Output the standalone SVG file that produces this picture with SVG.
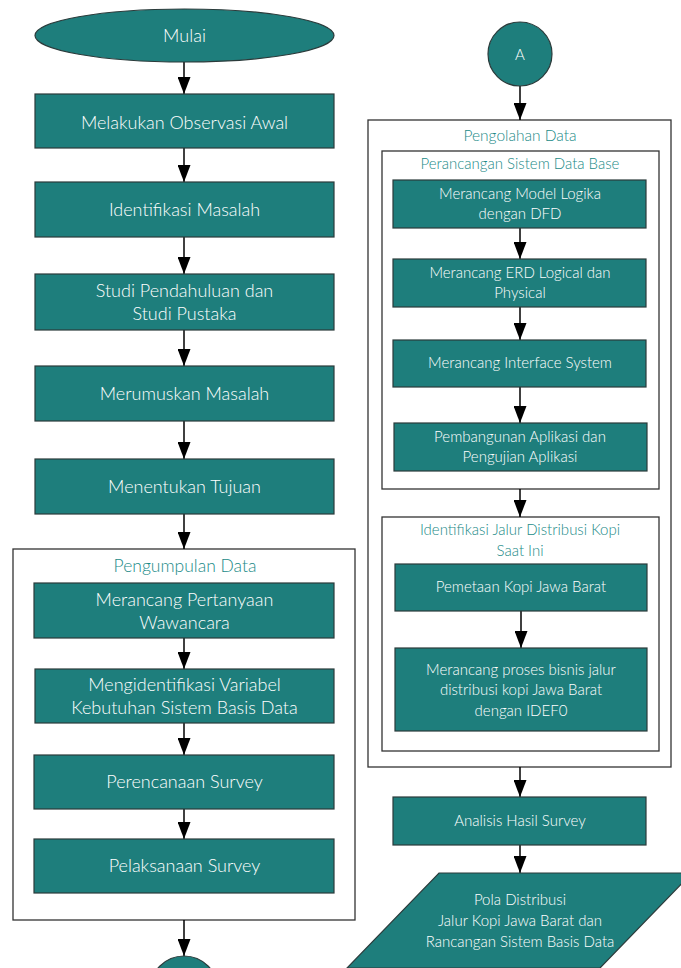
<svg xmlns="http://www.w3.org/2000/svg" width="681" height="968" viewBox="0 0 681 968">
<style>
.box{fill:#1e7e7c;stroke:#2b3b3b;stroke-width:1.2}
.frame{fill:#ffffff;stroke:#333333;stroke-width:1.3}
.t{font-family:Lato,"Open Sans",sans-serif;font-weight:300;fill:#ffffff;text-anchor:middle}
.L{font-size:18px}
.R{font-size:15px}
.ttl{font-family:Lato,"Open Sans",sans-serif;font-weight:300;fill:#1a8a87;text-anchor:middle}
.con{stroke:#000;stroke-width:1.5;fill:none;marker-end:url(#ah)}
</style>
<defs>
<marker id="ah" markerUnits="userSpaceOnUse" markerWidth="17" markerHeight="13" refX="17" refY="6.5" orient="auto">
<path d="M0,0 L17,6.5 L0,13 z" fill="#000"/>
</marker>
</defs>
<rect width="681" height="968" fill="#ffffff"/>

<g id="frame-pengumpulan">
<rect class="frame" x="13" y="549" width="342" height="371"/>
<text class="ttl" x="185" y="572" font-size="17.5">Pengumpulan Data</text>
</g>
<g id="frame-pengolahan">
<rect class="frame" x="368" y="120" width="303" height="647"/>
<text class="ttl" x="520" y="141" font-size="15.5">Pengolahan Data</text>
</g>
<g id="frame-perancangan">
<rect class="frame" x="382" y="151" width="277" height="338"/>
<text class="ttl" x="520" y="169" font-size="15">Perancangan Sistem Data Base</text>
</g>
<g id="frame-identifikasi">
<rect class="frame" x="382" y="517" width="277" height="234"/>
<text class="ttl" x="520" y="535" font-size="15">Identifikasi Jalur Distribusi Kopi</text>
<text class="ttl" x="520" y="556" font-size="15">Saat Ini</text>
</g>

<g id="connectors">
<line class="con" x1="184" y1="62" x2="184" y2="94"/>
<line class="con" x1="184" y1="148" x2="184" y2="182"/>
<line class="con" x1="184" y1="237" x2="184" y2="274"/>
<line class="con" x1="184" y1="330" x2="184" y2="366"/>
<line class="con" x1="184" y1="421" x2="184" y2="459"/>
<line class="con" x1="184" y1="514" x2="184" y2="549"/>
<line class="con" x1="184" y1="638" x2="184" y2="669"/>
<line class="con" x1="184" y1="723" x2="184" y2="755"/>
<line class="con" x1="184" y1="809" x2="184" y2="839"/>
<line class="con" x1="184" y1="920" x2="184" y2="956"/>
<line class="con" x1="520" y1="86" x2="520" y2="120"/>
<line class="con" x1="520" y1="228" x2="520" y2="259"/>
<line class="con" x1="520" y1="307" x2="520" y2="340"/>
<line class="con" x1="520" y1="387" x2="520" y2="423"/>
<line class="con" x1="520" y1="489" x2="520" y2="517"/>
<line class="con" x1="521" y1="611" x2="521" y2="648"/>
<line class="con" x1="520" y1="767" x2="520" y2="797"/>
<line class="con" x1="520" y1="845" x2="520" y2="873"/>
</g>

<g id="mulai">
<ellipse class="box" cx="184.5" cy="35.5" rx="149.5" ry="26.5"/>
<text class="t L" x="184.5" y="42">Mulai</text>
</g>
<g id="observasi">
<rect class="box" x="35" y="94" width="299" height="54"/>
<text class="t L" x="184.5" y="129">Melakukan Observasi Awal</text>
</g>
<g id="identifikasi-masalah">
<rect class="box" x="35" y="182" width="299" height="55"/>
<text class="t L" x="184.5" y="216">Identifikasi Masalah</text>
</g>
<g id="studi">
<rect class="box" x="35" y="274" width="299" height="56"/>
<text class="t L" x="184.5" y="297">Studi Pendahuluan dan</text>
<text class="t L" x="184.5" y="320">Studi Pustaka</text>
</g>
<g id="merumuskan">
<rect class="box" x="35" y="366" width="299" height="55"/>
<text class="t L" x="184.5" y="400">Merumuskan Masalah</text>
</g>
<g id="tujuan">
<rect class="box" x="35" y="459" width="299" height="55"/>
<text class="t L" x="184.5" y="493">Menentukan Tujuan</text>
</g>
<g id="pertanyaan">
<rect class="box" x="34" y="583" width="300" height="55"/>
<text class="t L" x="184.5" y="606">Merancang Pertanyaan</text>
<text class="t L" x="184.5" y="629">Wawancara</text>
</g>
<g id="variabel">
<rect class="box" x="35" y="669" width="299" height="54"/>
<text class="t L" x="184.5" y="691">Mengidentifikasi Variabel</text>
<text class="t L" x="184.5" y="714">Kebutuhan Sistem Basis Data</text>
</g>
<g id="perencanaan">
<rect class="box" x="34" y="755" width="300" height="54"/>
<text class="t L" x="184.5" y="788">Perencanaan Survey</text>
</g>
<g id="pelaksanaan">
<rect class="box" x="34" y="839" width="300" height="54"/>
<text class="t L" x="184.5" y="872">Pelaksanaan Survey</text>
</g>
<g id="connector-bottom">
<circle class="box" cx="184" cy="990" r="34"/>
</g>

<g id="connector-a">
<circle class="box" cx="520" cy="54" r="32"/>
<text class="t R" x="520" y="60">A</text>
</g>
<g id="model-logika">
<rect class="box" x="393" y="180" width="253" height="48"/>
<text class="t R" x="520" y="199">Merancang Model Logika</text>
<text class="t R" x="520" y="219">dengan DFD</text>
</g>
<g id="erd">
<rect class="box" x="393" y="259" width="253" height="48"/>
<text class="t R" x="520" y="278">Merancang ERD Logical dan</text>
<text class="t R" x="520" y="298">Physical</text>
</g>
<g id="interface">
<rect class="box" x="393" y="340" width="253" height="47"/>
<text class="t R" x="520" y="368">Merancang Interface System</text>
</g>
<g id="pembangunan">
<rect class="box" x="394" y="423" width="253" height="48"/>
<text class="t R" x="520" y="442">Pembangunan Aplikasi dan</text>
<text class="t R" x="520" y="462">Pengujian Aplikasi</text>
</g>
<g id="pemetaan">
<rect class="box" x="395" y="564" width="252" height="47"/>
<text class="t R" x="521" y="592">Pemetaan Kopi Jawa Barat</text>
</g>
<g id="proses-bisnis">
<rect class="box" x="395" y="648" width="252" height="83"/>
<text class="t R" x="521" y="675">Merancang proses bisnis jalur</text>
<text class="t R" x="521" y="695">distribusi kopi Jawa Barat</text>
<text class="t R" x="521" y="716">dengan IDEF0</text>
</g>
<g id="analisis">
<rect class="box" x="393" y="797" width="253" height="48"/>
<text class="t R" x="520" y="826">Analisis Hasil Survey</text>
</g>
<g id="pola">
<polygon class="box" points="439,873 692,873 600,968 347,968"/>
<text class="t R" x="520" y="905">Pola Distribusi</text>
<text class="t R" x="520" y="926">Jalur Kopi Jawa Barat dan</text>
<text class="t R" x="520" y="947">Rancangan Sistem Basis Data</text>
</g>
</svg>
